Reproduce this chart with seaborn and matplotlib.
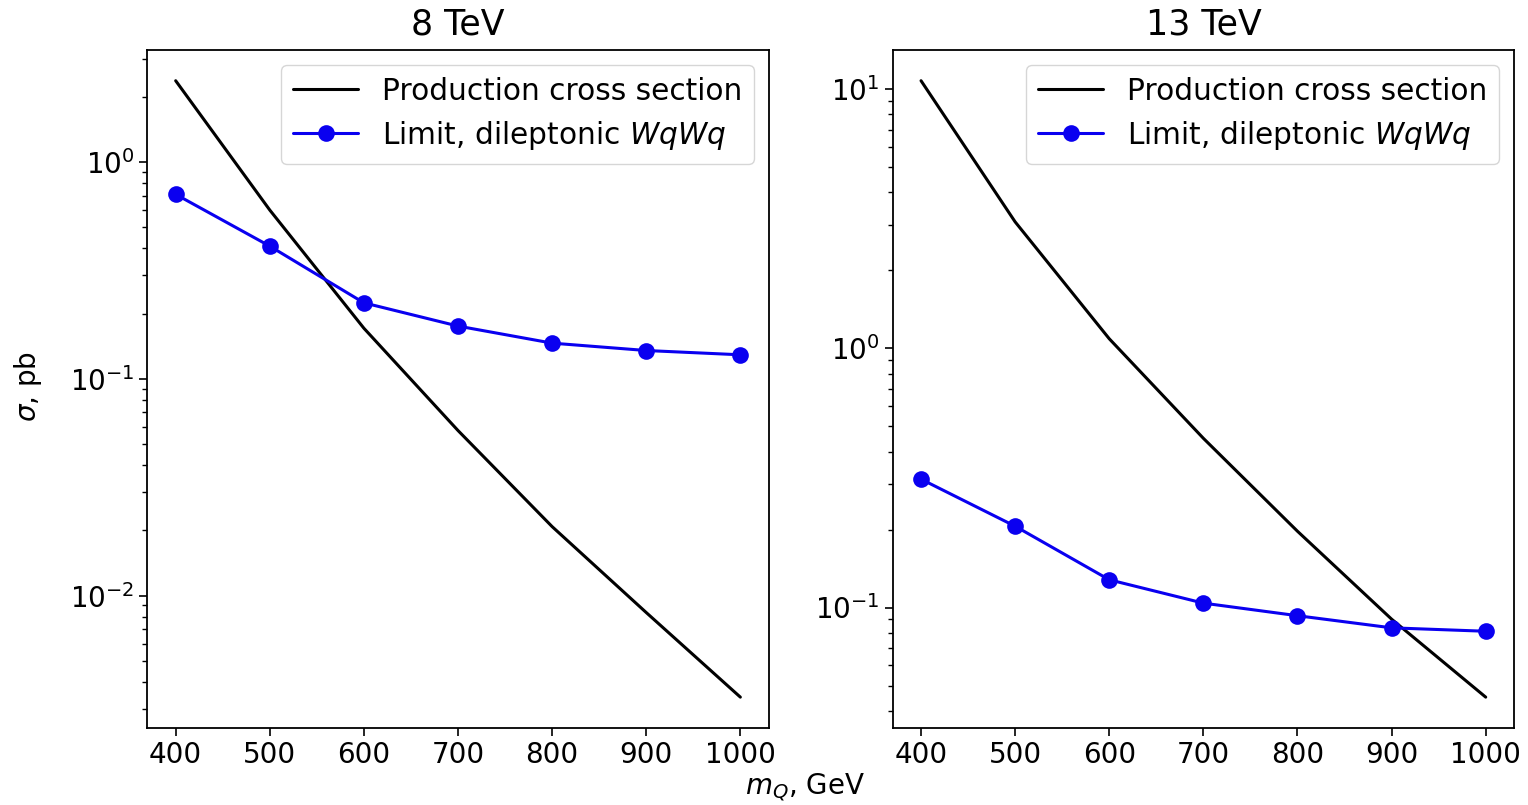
import numpy as np
import pandas as pd
import matplotlib
matplotlib.use("Agg")
import matplotlib.pyplot as plt
import seaborn as sns

# masses (GeV)
mass = [400, 500, 600, 700, 800, 900, 1000]

# 8 TeV
xsec_8 = [2.37, 0.60, 0.171, 0.0577, 0.0208, 0.00835, 0.0034]
limit_8 = [0.709, 0.409, 0.224, 0.175, 0.146, 0.135, 0.129]

# 13 TeV
xsec_13 = [10.8, 3.08, 1.09, 0.450, 0.197, 0.0902, 0.0451]
limit_13 = [0.313, 0.206, 0.128, 0.104, 0.093, 0.0835, 0.081]

titles = ["8 TeV", "13 TeV"]

sns.set_style("ticks", {"axes.edgecolor": "black", "xtick.color": "black",
                        "ytick.color": "black", "text.color": "black",
                        "axes.labelcolor": "black"})
plt.rcParams["font.family"] = ["DejaVu Sans"]
plt.rcParams["mathtext.fontset"] = "dejavusans"

fig, axes = plt.subplots(1, 2, figsize=(15.28, 8.05), dpi=100)
fig.subplots_adjust(left=0.0965, right=0.9908, top=0.938, bottom=0.0957, wspace=0.2)

panels = [(xsec_8, limit_8), (xsec_13, limit_13)]
for ax, (xs, lim), title in zip(axes, panels, titles):
    df = pd.DataFrame({"m": mass, "xsec": xs, "limit": lim})
    sns.lineplot(data=df, x="m", y="xsec", ax=ax, color="black", linewidth=2.2,
                 label="Production cross section")
    sns.lineplot(data=df, x="m", y="limit", ax=ax, color="#0a00f0", linewidth=2.2,
                 marker="o", markersize=12, markeredgewidth=0,
                 label="Limit, dileptonic $WqWq$")
    ax.set_yscale("log")
    ax.set_title(title, fontsize=25, pad=11)
    ax.set_xlabel("")
    ax.set_ylabel("")
    ax.set_xticks(mass)
    ax.tick_params(axis="both", which="major", labelsize=20, length=6, width=1.2)
    ax.tick_params(axis="y", which="minor", length=3.5, width=1)
    for sp in ax.spines.values():
        sp.set_linewidth(1.3)
    ax.legend(loc="upper right", fontsize=21.3, frameon=True, fancybox=True,
              handlelength=2.2, borderpad=0.4, labelspacing=0.45)

axes[0].set_ylabel(r"$\sigma$, pb", fontsize=20)
axes[0].yaxis.set_label_coords(-0.166, 0.503)
fig.text(0.527, 0.022, "$m_Q$, GeV", ha="center", va="center", fontsize=20)

fig.savefig("out.png", dpi=100)
